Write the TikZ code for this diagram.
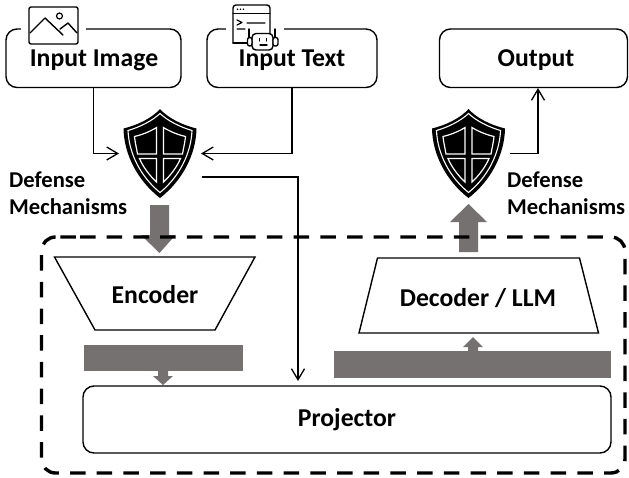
\documentclass[tikz,border=0pt]{standalone}
\usepackage{fontspec}
\setmainfont{Carlito}
\usetikzlibrary{arrows.meta}
\definecolor{blockgray}{HTML}{767171}
\tikzset{
  box/.style={draw=black,line width=1.4pt,rounded corners=11pt,inner sep=0pt,fill=white},
  big/.style={font=\bfseries\fontsize{25.7}{28}\selectfont,inner sep=0pt},
  side/.style={font=\bfseries\fontsize{22.6}{27}\selectfont,inner sep=0pt,align=left,anchor=west},
  trap/.style={draw=black,line width=1.4pt,line join=miter,fill=white},
  conn/.style={draw=black,line width=1.3pt,-{Straight Barb[length=11pt,width=13pt,line width=1.3pt]}},
  shieldspot/.style={inner sep=0pt,outer sep=4pt,minimum width=74pt,minimum height=89pt},
  iconline/.style={draw=black,line width=1.4pt,line cap=round,line join=round},
  block/.style={fill=blockgray,draw=none}
}
\newcommand{\shieldicon}[1]{%
  \begin{scope}[shift={(#1)}]
    \fill[black,line join=round] (0,0) .. controls (-8,9) and (-22,16) .. (-36.5,19.5)
      .. controls (-36,46) and (-22,72) .. (0,89)
      .. controls (22,72) and (36,46) .. (36.5,19.5)
      .. controls (22,16) and (8,9) .. (0,0) -- cycle;
    \draw[white,line width=1.1pt] (0,4.5) .. controls (-8,12) and (-20,18) .. (-32,21.5)
      .. controls (-31,45) and (-19,68) .. (0,83.5)
      .. controls (19,68) and (31,45) .. (32,21.5)
      .. controls (20,18) and (8,12) .. (0,4.5) -- cycle;
    \draw[white,line width=1.2pt,line join=miter]
      (-3.5,18.5) -- (-3.5,45) -- (-22.5,45) .. controls (-23.5,39) and (-25,33) .. (-25.5,27.5) .. controls (-17,25.5) and (-9,22) .. (-3.5,18.5) -- cycle
      (3.5,18.5) -- (3.5,45) -- (22.5,45) .. controls (23.5,39) and (25,33) .. (25.5,27.5) .. controls (17,25.5) and (9,22) .. (3.5,18.5) -- cycle
      (-3.5,49.5) -- (-3.5,73) .. controls (-10,67) and (-17,58) .. (-20.5,49.5) -- cycle
      (3.5,49.5) -- (3.5,73) .. controls (10,67) and (17,58) .. (20.5,49.5) -- cycle;
  \end{scope}}
\begin{document}
\begin{tikzpicture}[x=1pt,y=-1pt]
\useasboundingbox (0,0) rectangle (629,477);
% boxes
\node[box,minimum width=175pt,minimum height=58.5pt] (imgbox) at (93.5,58.25) {};
\node[box,minimum width=170pt,minimum height=58.5pt] (txtbox) at (292,58.25) {};
\node[box,minimum width=188pt,minimum height=58.5pt] (outbox) at (533.5,58.25) {};
\node[box,minimum width=528pt,minimum height=67pt] (proj) at (347,419.5) {};
% gaps in the box tops for the icons
\fill[white] (21,25) rectangle (86,34);
\fill[white] (226,25) rectangle (284,34);
% box labels
\node[big] (imgl) at (94,60) {Input Image};
\node[big] (txtl) at (292,60) {Input Text};
\node[big] (outl) at (536,60) {Output};
% image icon
\draw[iconline,rounded corners=2pt] (29,7) rectangle (78,44);
\draw[iconline] (30,33) -- (45,18) -- (63,35) (60,29) -- (68,23) -- (77,33);
\draw[black,line width=1.2pt] (59.5,16) circle (3);
% text/robot icon
\draw[iconline,rounded corners=3pt,fill=white] (233,43) -- (233,5) -- (270,5) -- (270,36);
\draw[iconline] (233,43) -- (250,43) (233,13.5) -- (270,13.5);
\draw[iconline,line width=1.2pt] (237,20) -- (242,22.5) -- (237,25) (247,23) -- (265,23) (237,29) -- (245,29);
\fill[black] (237.5,9.3) circle (0.9) (240.5,9.3) circle (0.9) (243.5,9.3) circle (0.9);
\draw[iconline,rounded corners=4pt,fill=white] (252,33.5) rectangle (273,50);
\draw[iconline,rounded corners=2pt,fill=white] (247.5,37.5) rectangle (252,46);
\draw[iconline,rounded corners=2pt,fill=white] (273,37.5) rectangle (278,46);
\draw[iconline] (249,29) -- (249,37) (275,29) -- (275,37) (259.5,38.5) -- (259.5,41) (266.5,38.5) -- (266.5,41) (260,45) -- (267,45);
% shields
\node[shieldspot] (shieldL) at (160,153.5) {};
\node[shieldspot] (shieldR) at (468.5,153.5) {};
\shieldicon{160,109}
\shieldicon{468.5,109}
% side labels
\node[side] (defL) at (9,193.5) {Defense\\Mechanisms};
\node[side] (defR) at (507,193.5) {Defense\\Mechanisms};
% trapezoids
\draw[trap] (54.5,257) -- (255,257) -- (215,330) -- (95,330) -- cycle;
\node[big] (enc) at (155,295) {Encoder};
\draw[trap] (377.5,258) -- (579.5,258) -- (598.5,333) -- (359,333) -- cycle;
\node[big] (dec) at (478,298) {Decoder / LLM};
\node[big] (projl) at (347,420) {Projector};
% grey bars and block arrows
\fill[block] (83.5,345) rectangle (243,371);
\fill[block] (158,371) -- (168,371) -- (168,376) -- (173,376) -- (163,385) -- (153,376) -- (158,376) -- cycle;
\fill[block] (334,351) rectangle (611,378);
\fill[block] (468,351) -- (468,347) -- (463,347) -- (473,337) -- (483,347) -- (478,347) -- (478,351) -- cycle;
\fill[block] (150,205) -- (169,205) -- (169,235) -- (175.5,235) -- (159.5,253) -- (141,235) -- (150,235) -- cycle;
\fill[block] (459,252) -- (459,222) -- (450,222) -- (468.5,204) -- (487,222) -- (478,222) -- (478,252) -- cycle;
% dashed frame
\draw[black,line width=3.4pt,dash pattern=on 15.5pt off 11.2pt,rounded corners=14pt] (66,237) -- (625,237) -- (625,473) -- (41.5,473) -- (41.5,237) -- cycle;
% connectors
\coordinate (projIn) at (298,381);
\coordinate (shieldOut) at (202,177);
\draw[conn] (imgbox.south) |- (shieldL.west);
\draw[conn] (txtbox.south) |- (shieldL.east);
\draw[conn] (shieldOut) -| (projIn);
\coordinate (outIn) at (538,88);
\draw[conn] (shieldR.east) -| (outIn);
\end{tikzpicture}
\end{document}
